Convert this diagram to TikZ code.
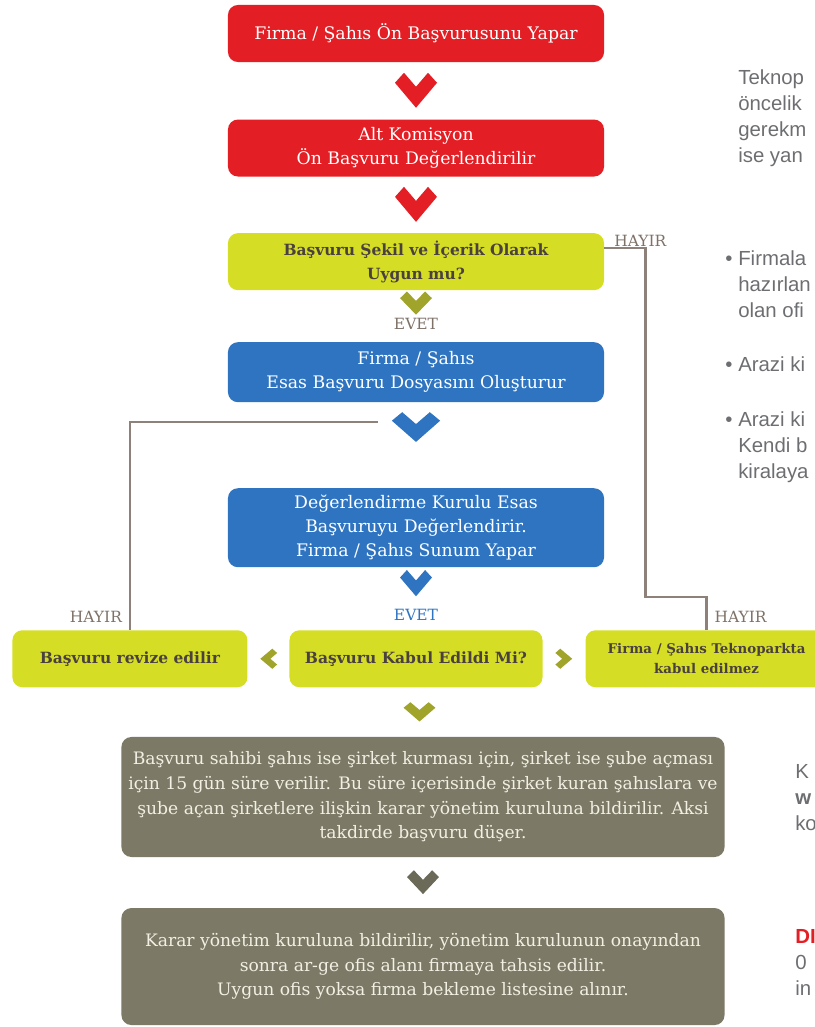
\documentclass[tikz,border=0pt]{standalone}
\usepackage{fontspec}
\setmainfont{DejaVu Serif}
\newfontfamily\grot{Liberation Sans}
\usepackage{tikz}
\usetikzlibrary{positioning,calc}

\definecolor{tkred}{HTML}{E31E24}
\definecolor{tklime}{HTML}{D5DE24}
\definecolor{tkblue}{HTML}{2F74C1}
\definecolor{tkolive}{HTML}{7C7A67}
\definecolor{tkchev}{HTML}{A0A42A}
\definecolor{tkdark}{HTML}{6B6957}
\definecolor{tkink}{HTML}{4A4040}
\definecolor{tkline}{HTML}{8E8179}
\definecolor{tktag}{HTML}{7E7168}
\definecolor{tkside}{HTML}{6D6E71}
\definecolor{tkpaper}{HTML}{F2EFE3}

\begin{document}
\begin{tikzpicture}[x=0.025cm, y=-0.025cm, on grid,
    box/.style={rounded corners=0.25cm, minimum width=9.4cm, minimum height=1.425cm,
      align=center, inner sep=2pt, font=\fontsize{12.3}{17}\selectfont},
    redbox/.style={box, fill=tkred, text=white},
    limebox/.style={box, fill=tklime, text=tkink, font=\bfseries\fontsize{11}{17}\selectfont},
    bluebox/.style={box, fill=tkblue, text=white},
    greybox/.style={box, fill=tkolive, text=tkpaper, minimum width=15.075cm,
      font=\fontsize{12.2}{17.5}\selectfont},
    tag/.style={font=\fontsize{11}{12}\selectfont, text=tktag},
    link/.style={draw=tkline, line width=1.8pt},
    side/.style={font=\grot\fontsize{14.5}{18.3}\selectfont, text=tkside, align=left,
      anchor=base west, inner sep=0pt},
    chev/.pic={\fill[#1] (-21,-8) -- (-12,-18) -- (0,-4) -- (12,-18) -- (21,-8) -- (0,17) -- cycle;}]
  \useasboundingbox (0,0) rectangle (815,1027);
  \clip (0,0) rectangle (815,1027);

  \node[redbox] (start) at (416,33.5) {Firma / Şahıs Ön Başvurusunu Yapar};
  \node[redbox] (sub) [below=2.8625cm of start] {Alt Komisyon\\Ön Başvuru Değerlendirilir};
  \node[limebox] (check) [below=2.84cm of sub] {Başvuru Şekil ve İçerik Olarak\\Uygun mu?};
  \node[bluebox, minimum height=1.5cm] (file) [below=2.7625cm of check] {Firma / Şahıs\\Esas Başvuru Dosyasını Oluşturur};
  \node[bluebox, minimum height=1.975cm] (jury) [below=3.8875cm of file] {Değerlendirme Kurulu Esas\\Başvuruyu Değerlendirir.\\Firma / Şahıs Sunum Yapar};
  \node[limebox, minimum width=6.325cm] (accept) [below=3.275cm of jury] {Başvuru Kabul Edildi Mi?};
  \node[limebox, minimum width=5.875cm] (revise) [left=7.15cm of accept] {Başvuru revize edilir};
  \node[limebox, minimum width=6.05cm, font=\bfseries\fontsize{9.5}{14}\selectfont] (reject) [right=7.2625cm of accept] {Firma / Şahıs Teknoparkta\\kabul edilmez};
  \node[greybox, minimum height=3cm] (grant) at (423,797) {Başvuru sahibi şahıs ise şirket kurması için, şirket ise şube açması\\için 15 gün süre verilir. Bu süre içerisinde şirket kuran şahıslara ve\\şube açan şirketlere ilişkin karar yönetim kuruluna bildirilir. Aksi\\takdirde başvuru düşer.};
  \node[greybox, minimum height=2.925cm] (office) [below=4.2375cm of grant] {Karar yönetim kuruluna bildirilir, yönetim kurulunun onayından\\sonra ar-ge ofis alanı firmaya tahsis edilir.\\Uygun ofis yoksa firma bekleme listesine alınır.};

  \node[tag] (yes1) at ($(check.south)+(0,33)$) {EVET};
  \node[tag, text=tkblue] (yes2) at ($(accept.north)+(0,-15)$) {EVET};
  \node[tag] (no1) at ($(check.north east)+(36,8)$) {HAYIR};
  \node[tag] (no2) at ($(revise.north)+(-34,-13)$) {HAYIR};
  \node[tag] (no3) at ($(reject.north)+(34,-13)$) {HAYIR};

  \pic at ($(start.south)!0.5!(sub.north)$) {chev=tkred};
  \pic at ($(sub.south)!0.5!(check.north)$) {chev=tkred};
  \pic[xscale=0.76, yscale=0.66] at ($(check.south)+(0,13)$) {chev=tkchev};
  \pic[xscale=1.15, yscale=0.85] at ($(file.south)+(0,25)$) {chev=tkblue};
  \pic[xscale=0.76, yscale=0.75] at ($(jury.south)+(0,16)$) {chev=tkblue};
  \pic[xscale=0.76, yscale=0.55] at ($(accept.south)!0.5!(grant.north)$) {chev=tkchev};
  \pic[xscale=0.76, yscale=0.68] at ($(grant.south)!0.5!(office.north)$) {chev=tkdark};
  \pic[scale=0.48, rotate=-90] at ($(revise.east)!0.5!(accept.west)$) {chev=tkchev};
  \pic[scale=0.48, rotate=90] at ($(accept.east)!0.5!(reject.west)$) {chev=tkchev};

  \coordinate (back) at (378,422);
  \draw[link] (back) -| (revise.north);
  \draw[link] ([yshift=0.3375cm]check.east) -- ++(41,0) |- ([yshift=0.825cm]reject.north) -- (reject.north);

  \node[side] (note1) at (738,162) {Teknop\\öncelik\\gerekm\\ise yan};
  \node[side] (note2) at (738,317) {\llap{\textbullet\ }Firmala\\hazırlan\\olan ofi};
  \node[side] (note3) at (738,371) {\llap{\textbullet\ }Arazi ki};
  \node[side] (note4) at (738,478) {\llap{\textbullet\ }Arazi ki\\Kendi b\\kiralaya};
  \node[side] (note5) at (795,830) {K\\\textbf{w}\\ko};
  \node[side] (note6) at (795,995) {\textcolor{tkred}{\textbf{DI}}\\0\\in};
\end{tikzpicture}
\end{document}
